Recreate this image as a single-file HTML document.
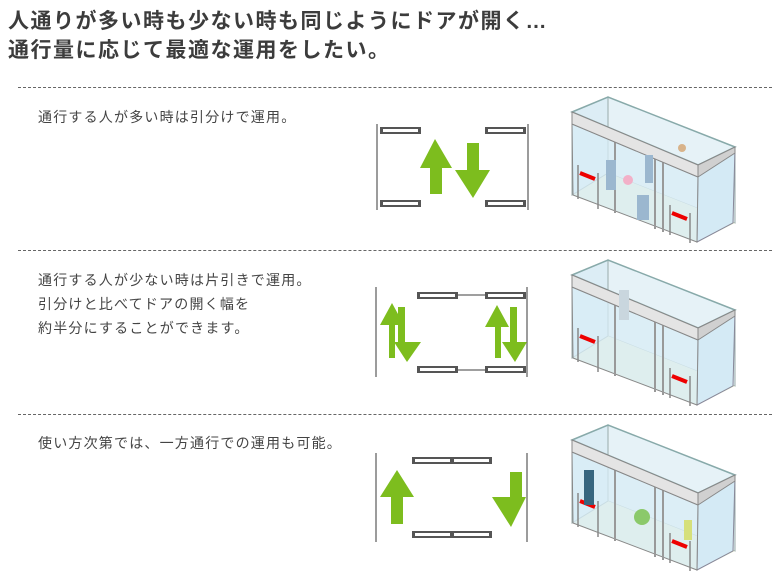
<!DOCTYPE html>
<html><head><meta charset="utf-8"><style>
html,body{margin:0;padding:0;background:#fff;}
body{width:780px;height:579px;position:relative;overflow:hidden;font-family:"Liberation Sans","Noto Sans CJK JP",sans-serif;}
.t{position:absolute;left:8px;font-size:21px;font-weight:bold;color:#3c3c3c;white-space:nowrap;letter-spacing:1.5px}
.d{position:absolute;left:18px;width:754px;border-top:1.3px dashed #666;}
.p{position:absolute;left:38px;font-size:14px;color:#444;line-height:24px;white-space:nowrap;letter-spacing:1.2px}
svg{position:absolute;left:0;top:0}
</style></head><body>
<div class="t" style="top:5px">人通りが多い時も少ない時も同じようにドアが開く…</div>
<div class="t" style="top:34px">通行量に応じて最適な運用をしたい。</div>
<div class="d" style="top:87px"></div>
<div class="d" style="top:250px"></div>
<div class="d" style="top:414px"></div>
<div class="p" style="top:105px">通行する人が多い時は引分けで運用。</div>
<div class="p" style="top:268px">通行する人が少ない時は片引きで運用。<br>引分けと比べてドアの開く幅を<br>約半分にすることができます。</div>
<div class="p" style="top:431px">使い方次第では、一方通行での運用も可能。</div>
<svg width="780" height="579" viewBox="0 0 780 579">
<defs>
<g id="box">
 <polygon points="48,2 175,52 175,128 48,78" fill="#e6f2f7" stroke="#9aa" stroke-width="1"/>
 <polygon points="12,100 48,78 175,128 137,147" fill="#eef4d6"/>
 <polygon points="12,17 48,2 48,78 12,100" fill="#dcedf5" stroke="#9aa"/>
 <polygon points="138,70 175,52 173,128 137,147" fill="#d4eaf5" stroke="#889"/>
 <polygon points="12,29 138,82 137,147 13,100" fill="#d8ecf6" fill-opacity="0.75" stroke="#888"/>
 <line x1="55" y1="47" x2="55" y2="118" stroke="#999" stroke-width="2"/>
 <line x1="95" y1="64" x2="95" y2="134" stroke="#999" stroke-width="2"/>
 <line x1="103" y1="67" x2="103" y2="137" stroke="#999" stroke-width="2"/>
 <polygon points="12,17 48,2 175,52 138,70" fill="none" stroke="#8aa" stroke-width="1.5"/>
 <polygon points="12,17 138,70 138,82 12,29" fill="#e4e4e4" stroke="#888"/>
 <polygon points="138,70 175,52 175,58 138,82" fill="#d0d0d0" stroke="#888"/>
 <line x1="20" y1="78" x2="35" y2="84" stroke="#e00" stroke-width="4"/>
 <line x1="112" y1="118" x2="127" y2="124" stroke="#e00" stroke-width="4"/>
 <line x1="18" y1="70" x2="18" y2="104" stroke="#888" stroke-width="1.5"/>
 <line x1="38" y1="78" x2="38" y2="114" stroke="#888" stroke-width="1.5"/>
 <line x1="110" y1="110" x2="110" y2="140" stroke="#888" stroke-width="1.5"/>
 <line x1="130" y1="118" x2="130" y2="148" stroke="#888" stroke-width="1.5"/>
</g>
<g id="panel"><rect x="0" y="0" width="41" height="7" fill="#555"/><rect x="3" y="2" width="35" height="3" fill="#fff"/></g>
</defs>
<g stroke="#666" stroke-width="1.3"><line x1="377" y1="124" x2="377" y2="210"/><line x1="528" y1="124" x2="528" y2="210"/></g>
<use href="#panel" x="380" y="127"/><use href="#panel" x="380" y="200"/><use href="#panel" x="485" y="127"/><use href="#panel" x="485" y="200"/>
<g fill="#7dbd1e">
<polygon points="435,139 452,168 442,168 442,194 430,194 430,168 420,168"/>
<polygon points="467,143 479,143 479,170 490,170 473,198 455,170 467,170"/>
</g>
<g stroke="#666" stroke-width="1.3"><line x1="376" y1="287" x2="376" y2="377"/><line x1="527" y1="287" x2="527" y2="377"/><line x1="457" y1="295" x2="485" y2="295"/><line x1="457" y1="370" x2="485" y2="370"/></g>
<use href="#panel" x="417" y="292"/><use href="#panel" x="485" y="292"/><use href="#panel" x="417" y="366"/><use href="#panel" x="485" y="366"/>
<g fill="#7dbd1e">
<polygon points="392,303 404,325 395,325 395,358 389,358 389,325 380,325"/>
<polygon points="398,307 405,307 405,342 421,342 407,362 394,342 398,342"/>
<polygon points="497,305 509,327 501,327 501,358 495,358 495,327 485,327"/>
<polygon points="510,307 517,307 517,342 527,342 515,362 502,342 510,342"/>
</g>
<g stroke="#666" stroke-width="1.3"><line x1="376" y1="453" x2="376" y2="542"/><line x1="527" y1="453" x2="527" y2="542"/></g>
<use href="#panel" x="412" y="457"/><use href="#panel" x="451" y="457"/><use href="#panel" x="412" y="531"/><use href="#panel" x="451" y="531"/>
<g fill="#7dbd1e">
<polygon points="397,470 414,497 403,497 403,524 391,524 391,497 380,497"/>
<polygon points="510,472 522,472 522,497 526,497 511,527 492,497 510,497"/>
</g>
<use href="#box" x="560" y="95"/>
<use href="#box" x="560" y="258"/>
<use href="#box" x="560" y="423"/>
<g fill="#9bb7cf"><rect x="606" y="160" width="10" height="30"/><rect x="637" y="195" width="12" height="25"/><rect x="645" y="155" width="8" height="28"/></g>
<circle cx="628" cy="180" r="5" fill="#f2b0c8"/><circle cx="682" cy="148" r="4" fill="#d8b38a"/>
<rect x="619" y="290" width="10" height="30" fill="#c9d6de"/>
<rect x="584" y="470" width="10" height="35" fill="#37667f"/><circle cx="642" cy="517" r="8" fill="#8bc96a"/>
<rect x="684" y="520" width="8" height="20" fill="#d6e07a"/>
</svg>
</body></html>
